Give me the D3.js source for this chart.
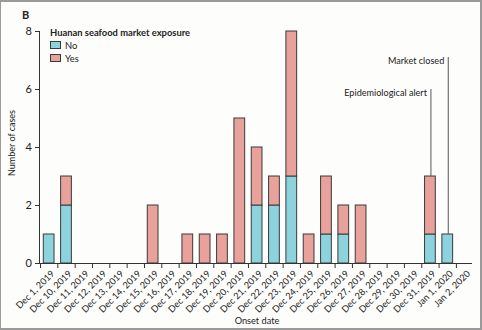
<!DOCTYPE html>
<html><head><meta charset="utf-8">
<script src="https://cdn.jsdelivr.net/npm/d3@7"></script>
<style>
html,body{margin:0;padding:0;background:#fff;}
svg{display:block;}
text{font-family:Lato,"Open Sans","Noto Sans",sans-serif;fill:#222;}
</style></head>
<body>
<svg id="chart" width="482" height="330"></svg>
<script>
const categories = ["Dec 1, 2019","Dec 10, 2019","Dec 11, 2019","Dec 12, 2019","Dec 13, 2019","Dec 14, 2019","Dec 15, 2019","Dec 16, 2019","Dec 17, 2019","Dec 18, 2019","Dec 19, 2019","Dec 20, 2019","Dec 21, 2019","Dec 22, 2019","Dec 23, 2019","Dec 24, 2019","Dec 25, 2019","Dec 26, 2019","Dec 27, 2019","Dec 28, 2019","Dec 29, 2019","Dec 30, 2019","Dec 31, 2019","Jan 1, 2020","Jan 2, 2020"];
const noExposure  = [1,2,0,0,0,0,0,0,0,0,0,0,2,2,3,0,1,1,0,0,0,0,1,1,0];
const yesExposure = [0,1,0,0,0,0,2,0,1,1,1,5,2,1,5,1,2,1,2,0,0,0,2,0,0];
const yTicks = [0,2,4,6,8];
const seriesNames = ["No","Yes"];
const seriesColors = ["#8cd3de","#e8a19b"];
const annotations = [
  {label:"Epidemiological alert", date:"Dec 31, 2019", top:93},
  {label:"Market closed", date:"Jan 1, 2020", top:61}
];

const svg = d3.select("#chart");
// frame
svg.append("rect").attr("x",0).attr("y",0).attr("width",482).attr("height",330).attr("fill","#9a9a9a");
svg.append("rect").attr("x",1).attr("y",2).attr("width",479).attr("height",326).attr("fill","#fdfdfb");

const m = {left:40};
const x = d3.scaleBand().domain(categories).range([m.left, m.left + 17.33*categories.length]).paddingInner(0.38).paddingOuter(0.19);
const xb = d3.scaleBand().domain(categories).range([m.left, m.left + 17.33*categories.length]);
const y = d3.scaleLinear().domain([0,8]).range([263,31]);

const data = categories.map((c,i)=>({cat:c, No:noExposure[i], Yes:yesExposure[i]}));
const stack = d3.stack().keys(seriesNames)(data);

const g = svg.append("g");
stack.forEach((layer,li)=>{
  g.append("g").selectAll("rect").data(layer.filter(d=>d[1]-d[0]>0)).join("rect")
    .attr("x", d=>x(d.data.cat))
    .attr("width", x.bandwidth())
    .attr("y", d=>y(d[1]))
    .attr("height", d=>y(d[0])-y(d[1]))
    .attr("fill", seriesColors[li])
    .attr("stroke","#3a3a3a").attr("stroke-width",1);
});

// y axis
const yAxis = svg.append("g").attr("transform",`translate(${m.left},0)`)
  .call(d3.axisLeft(y).tickValues(yTicks).tickSize(5).tickPadding(3));
yAxis.select(".domain").attr("stroke","#333").attr("d",`M-0.5,${y(8)}V${y(0)}`);
yAxis.selectAll(".tick line").attr("stroke","#333");
yAxis.selectAll("text").attr("font-size",11).attr("fill","#222").attr("font-family","Lato,sans-serif");

// x axis: ticks at band boundaries
const xAxisG = svg.append("g").attr("transform",`translate(0,${y(0)})`);
const bounds = categories.map(c=>xb(c));
xAxisG.append("line").attr("x1",m.left-0.5).attr("x2",472).attr("y1",0.5).attr("y2",0.5).attr("stroke","#333");
xAxisG.selectAll("line.tk").data(bounds).join("line").attr("class","tk")
  .attr("x1",d=>d+0.5).attr("x2",d=>d+0.5).attr("y1",0).attr("y2",5).attr("stroke","#333");
xAxisG.selectAll("text").data(categories).join("text")
  .attr("transform",d=>`translate(${xb(d)+xb.bandwidth()/2+4},9) rotate(-45)`)
  .attr("text-anchor","end").attr("font-size",9.2).attr("dy","0.35em").text(d=>d);

// annotations
annotations.forEach(a=>{
  const cx = x(a.date)+x.bandwidth()/2;
  const i = categories.indexOf(a.date);
  const tot = noExposure[i]+yesExposure[i];
  svg.append("line").attr("x1",cx+1).attr("x2",cx+1).attr("y1",a.top-4).attr("y2",y(tot))
    .attr("stroke","#555").attr("stroke-width",1);
  svg.append("text").attr("x",cx-3).attr("y",a.top+2).attr("text-anchor","end")
    .attr("font-size",9.1).attr("dy","0.1em").text(a.label);
});

// legend
svg.append("text").attr("x",50).attr("y",36).attr("font-size",9.4).attr("font-weight","bold").text("Huanan seafood market exposure");
seriesNames.forEach((s,i)=>{
  svg.append("rect").attr("x",50.5).attr("y",41.5+i*13).attr("width",10).attr("height",7)
    .attr("fill",seriesColors[i]).attr("stroke","#3a3a3a");
  svg.append("text").attr("x",65).attr("y",48.5+i*13).attr("font-size",9.4).text(s);
});

// labels
svg.append("text").attr("x",22).attr("y",19).attr("font-size",11).attr("font-weight","bold").text("B");
svg.append("text").attr("transform",`translate(15,143) rotate(-90)`).attr("text-anchor","middle").attr("font-size",9).text("Number of cases");
svg.append("text").attr("x",257).attr("y",324).attr("text-anchor","middle").attr("font-size",9.2).text("Onset date");
</script>
</body></html>
